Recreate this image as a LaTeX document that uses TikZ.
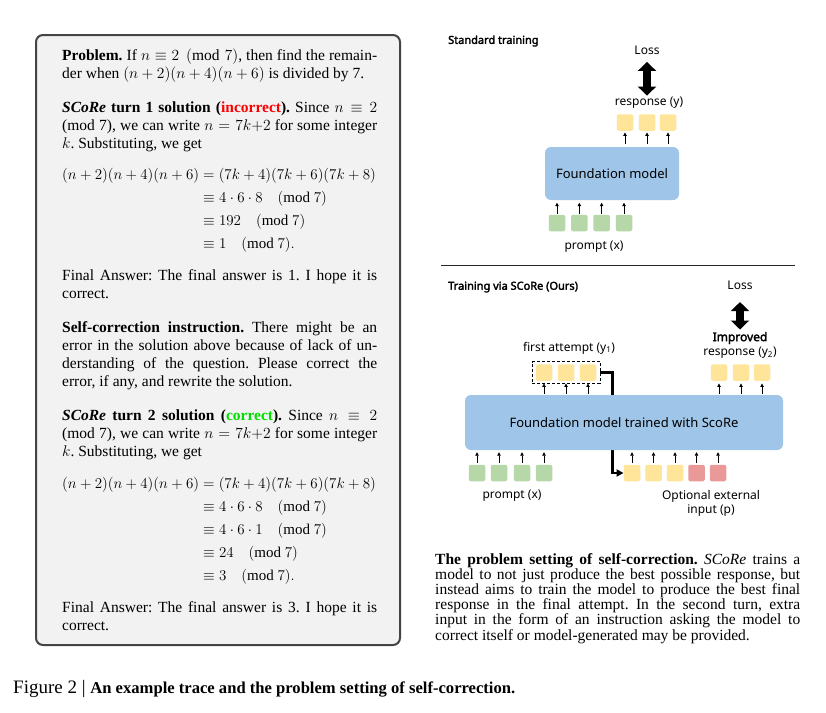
\RequirePackage{fix-cm}
\documentclass[tikz,border=0pt]{standalone}
\usepackage{amsmath}
\usepackage{graphicx}
\usepackage{fontspec}
\setmainfont{Liberation Serif}
\newfontfamily\dsans{Noto Sans}
\newfontfamily\dsansbold{Noto Sans}[FakeBold=2.5]
\usetikzlibrary{arrows.meta,fit}
\pgfdeclarelayer{bg}
\pgfsetlayers{bg,main}
\frenchspacing
\definecolor{panelfill}{HTML}{F2F2F2}
\definecolor{panelborder}{HTML}{444444}
\definecolor{tokYc}{HTML}{FFE599}
\definecolor{tokGc}{HTML}{B6D7A8}
\definecolor{tokRc}{HTML}{EA9999}
\definecolor{modelc}{HTML}{9FC5E8}
\definecolor{wrongred}{HTML}{FF0000}
\definecolor{rightgreen}{HTML}{00DD00}
\tikzset{
  ptext/.style={anchor=base west, text width=315pt, align=justify, inner sep=0pt,
    font=\fontsize{15.5}{18}\selectfont,
    execute at begin node={\tolerance=10000\hyphenpenalty=10000\frenchspacing\relax}},
  eqtext/.style={anchor=base west, inner sep=0pt, font=\fontsize{15}{18}\selectfont},
  captext/.style={anchor=base west, text width=365pt, align=justify, inner sep=0pt,
    font=\fontsize{15.5}{14}\selectfont,
    execute at begin node={\tolerance=10000\hyphenpenalty=10000\frenchspacing\relax}},
  tok/.style={minimum width=16.5pt, minimum height=16.5pt, inner sep=0pt, rounded corners=2pt},
  tokY/.style={tok, fill=tokYc},
  tokG/.style={tok, fill=tokGc},
  tokR/.style={tok, fill=tokRc},
  model/.style={fill=modelc, rounded corners=6pt, inner sep=0pt, font=\dsans\fontsize{13}{16}\selectfont},
  lbl/.style={inner sep=0pt, font=\dsans\fontsize{12}{14}\selectfont},
  lblb/.style={inner sep=0pt, font=\dsansbold\fontsize{12}{14}\selectfont},
  ttl/.style={inner sep=0pt, anchor=west, font=\dsansbold\fontsize{11}{13}\selectfont},
  tiny/.style={-{Triangle[length=3.5pt,width=3.5pt]}, line width=0.8pt},
  lossarrow/.style={line width=8pt, {Triangle[length=9pt,width=18pt]}-{Triangle[length=9pt,width=18pt]}},
  feed/.style={line width=2.2pt, -{Triangle[length=7pt,width=7pt]}},
  dbox/.style={draw, line width=0.9pt, dash pattern=on 3pt off 2pt, inner xsep=3.5pt, inner ysep=2.5pt},
  panel/.style={draw=panelborder, line width=2pt, fill=panelfill, rounded corners=7pt, inner sep=0pt}
}
\begin{document}
\begin{tikzpicture}[x=1pt,y=-1pt]
\begin{pgfonlayer}{bg}
\fill[white] (0,0) rectangle (826,712);
\end{pgfonlayer}
\useasboundingbox (0,0) rectangle (826,712);

% ---------- left panel ----------
\node[panel, minimum width=364pt, minimum height=610pt] (panel) at (218,340) {};

\node[ptext] (p1) at (62,60) {\textbf{Problem.} If $n \equiv 2 \pmod{7}$, then find the remain-\linebreak der when $(n+2)(n+4)(n+6)$ is divided by 7.};

\node[ptext] (p2) at (62,112) {\textbf{\textit{SCoRe} turn 1 solution (\textcolor{wrongred}{incorrect}).} Since $n \equiv 2$\linebreak (mod 7), we can write $n = 7k{+}2$ for some integer\linebreak $k$. Substituting, we get};

\node[eqtext] (e1) at (62,179) {$\begin{aligned}[t]
(n+2)(n+4)(n+6) &= (7k+4)(7k+6)(7k+8)\\[2pt]
&\equiv 4\cdot 6\cdot 8 \quad (\mathrm{mod}\ 7)\\[2pt]
&\equiv 192 \quad (\mathrm{mod}\ 7)\\[2pt]
&\equiv 1 \quad (\mathrm{mod}\ 7).
\end{aligned}$};

\node[ptext] (p3) at (62,280) {Final Answer: The final answer is 1. I hope it is\linebreak correct.};

\node[ptext] (p4) at (62,332) {\textbf{Self-correction instruction.} There might be an\linebreak error in the solution above because of lack of un-\linebreak derstanding of the question. Please correct the\linebreak error, if any, and rewrite the solution.};

\node[ptext] (p5) at (62,420) {\textbf{\textit{SCoRe} turn 2 solution (\textcolor{rightgreen}{correct}).} Since $n \equiv 2$\linebreak (mod 7), we can write $n = 7k{+}2$ for some integer\linebreak $k$. Substituting, we get};

\node[eqtext] (e2) at (62,488) {$\begin{aligned}[t]
(n+2)(n+4)(n+6) &= (7k+4)(7k+6)(7k+8)\\[2pt]
&\equiv 4\cdot 6\cdot 8 \quad (\mathrm{mod}\ 7)\\[2pt]
&\equiv 4\cdot 6\cdot 1 \quad (\mathrm{mod}\ 7)\\[2pt]
&\equiv 24 \quad (\mathrm{mod}\ 7)\\[2pt]
&\equiv 3 \quad (\mathrm{mod}\ 7).
\end{aligned}$};

\node[ptext] (p6) at (62,612) {Final Answer: The final answer is 3. I hope it is\linebreak correct.};

% ---------- standard training ----------
\node[ttl] (t1) at (448,41) {Standard training};
\node[model, minimum width=134pt, minimum height=53pt] (m1) at (612,173.5) {Foundation model};
\foreach \i/\x in {1/625,2/647,3/668} \node[tokY] (r\i) at (\x,122.5) {};
\foreach \i/\x in {1/557,2/579.3,3/601.6,4/624} \node[tokG] (g\i) at (\x,223) {};
\node[lbl] (loss1) at (647,50) {Loss};
\node[lbl] (resp1) at (649,103) {response (y)};
\node[lbl] (pr1) at (594,247) {prompt (x)};
\foreach \i in {1,2,3} \draw[tiny, shorten <=3pt, shorten >=1.5pt] (r\i.south |- m1.north) -- (r\i.south);
\foreach \i in {1,...,4} \draw[tiny, shorten <=1pt, shorten >=2.5pt] (g\i.north) -- (g\i.north |- m1.south);
\draw[lossarrow, shorten <=7.4pt, shorten >=1.5pt] (loss1.south) -- (loss1.south |- resp1.north);

\draw[line width=1pt, black!85] (441,265) -- (795,265);

% ---------- SCoRe training ----------
\node[ttl] (t2) at (448,287) {Training via SCoRe (Ours)};
\node[model, minimum width=318pt, minimum height=55pt] (m2) at (624,422.5) {Foundation model trained with ScoRe};
\foreach \i/\x in {1/544,2/566,3/588} \node[tokY] (a\i) at (\x,372.5) {};
\node[dbox, fit=(a1)(a3)] (fb) {};
\foreach \i/\x in {1/719,2/741,3/762} \node[tokY] (b\i) at (\x,372.5) {};
\foreach \i/\x in {1/477,2/499,3/522,4/544} \node[tokG] (c\i) at (\x,473) {};
\node[tokY] (q1) at (632,473) {};
\node[tokY] (q2) at (653.5,473) {};
\node[tokY] (q3) at (675,473) {};
\node[tokR] (q4) at (696.5,473) {};
\node[tokR] (q5) at (718,473) {};
\node[lbl] (loss2) at (740,285) {Loss};
\node[lblb] (imp) at (740,338) {Improved};
\node[lbl] (resp2) at (740,353) {response (y\textsubscript{2})};
\node[lbl] (fa) at (569,348) {first attempt (y\textsubscript{1})};
\node[lbl] (pr2) at (512,496) {prompt (x)};
\node[lbl, align=center] (ext) at (711,503) {Optional external\\input (p)};
\foreach \i in {1,2,3} {
  \draw[tiny, shorten <=1pt, shorten >=2.5pt] (a\i.south |- m2.north) -- (a\i.south);
  \draw[tiny, shorten <=1pt, shorten >=2.5pt] (b\i.south |- m2.north) -- (b\i.south);
}
\foreach \i in {1,...,4} \draw[tiny, shorten <=2pt, shorten >=2pt] (c\i.north) -- (c\i.north |- m2.south);
\foreach \i in {1,...,5} \draw[tiny, shorten <=2pt, shorten >=2pt] (q\i.north) -- (q\i.north |- m2.south);
\draw[lossarrow, shorten <=12.5pt, shorten >=2.3pt] (loss2.south) -- (loss2.south |- imp.north);
\begin{pgfonlayer}{bg}
\draw[feed] (fb.east) -- ++(12,0) |- (q1.west);
\end{pgfonlayer}

% ---------- right caption ----------
\node[captext] (cap) at (435,564) {\textbf{The problem setting of self-correction.} \textit{SCoRe} trains a\linebreak model to not just produce the best possible response, but\linebreak instead aims to train the model to produce the best final\linebreak response in the final attempt. In the second turn, extra\linebreak input in the form of an instruction asking the model to\linebreak correct itself or model-generated may be provided.};

% ---------- figure caption ----------
\node[anchor=base west, inner sep=0pt] (fig) at (13,693) {{\fontsize{19}{22}\selectfont Figure 2 \textbar\ }{\fontsize{16.6}{20}\selectfont\bfseries An example trace and the problem setting of self-correction.}};
\end{tikzpicture}
\end{document}
